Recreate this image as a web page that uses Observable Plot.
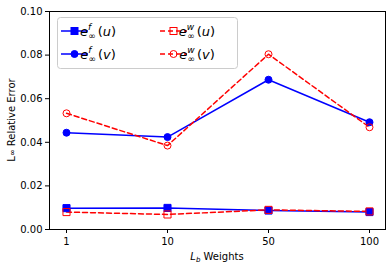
<!DOCTYPE html>
<html><head><meta charset="utf-8">
<script src="https://cdn.jsdelivr.net/npm/d3@7"></script>
<script src="https://cdn.jsdelivr.net/npm/@observablehq/plot@0.6"></script>
<style>body{margin:0;background:#fff;} svg{font-family:"DejaVu Sans",sans-serif;}</style>
</head><body><div id="chart"></div>
<script>
const weights = ["1", "10", "50", "100"];
const efU = [0.0098, 0.0099, 0.0087, 0.0080];
const efV = [0.0444, 0.0424, 0.0687, 0.0492];
const ewU = [0.0080, 0.0069, 0.0090, 0.0083];
const ewV = [0.0533, 0.0385, 0.0804, 0.0469];
const yTicks = [0, 0.02, 0.04, 0.06, 0.08, 0.10];

const BLUE = "#0000ff", RED = "#ff0000";
function rows(vals) { return weights.map((w, i) => ({w, v: vals[i]})); }

const plot = Plot.plot({
  width: 392, height: 270,
  marginLeft: 49, marginRight: 7, marginTop: 11, marginBottom: 41,
  style: {fontFamily: "DejaVu Sans, sans-serif", fontSize: "10px", background: "white", color: "black"},
  x: {type: "point", domain: weights, padding: 0.158},
  y: {domain: [0, 0.1]},
  marks: [
    Plot.axisY({ticks: yTicks, tickFormat: d => d.toFixed(2), tickSize: 4, tickPadding: 3, label: null, fontSize: 10}),
    Plot.axisX({tickSize: 4, tickPadding: 4, label: null, fontSize: 10}),
    Plot.line(rows(efU), {x: "w", y: "v", stroke: BLUE, strokeWidth: 1.5}),
    Plot.line(rows(efV), {x: "w", y: "v", stroke: BLUE, strokeWidth: 1.5}),
    Plot.line(rows(ewU), {x: "w", y: "v", stroke: RED, strokeWidth: 1.5, strokeDasharray: "5,3"}),
    Plot.line(rows(ewV), {x: "w", y: "v", stroke: RED, strokeWidth: 1.5, strokeDasharray: "5,3"}),
    Plot.dot(rows(efU), {x: "w", y: "v", symbol: "square", r: 4, fill: BLUE, stroke: BLUE, strokeWidth: 1}),
    Plot.dot(rows(efV), {x: "w", y: "v", symbol: "circle", r: 3.5, fill: BLUE, stroke: BLUE, strokeWidth: 1}),
    Plot.dot(rows(ewU), {x: "w", y: "v", symbol: "square", r: 4, fill: "none", stroke: RED, strokeWidth: 1}),
    Plot.dot(rows(ewV), {x: "w", y: "v", symbol: "circle", r: 3.5, fill: "none", stroke: RED, strokeWidth: 1}),
    Plot.frame({stroke: "black", strokeWidth: 1})
  ]
});
document.getElementById("chart").appendChild(plot);

const svg = d3.select(plot);
// axis titles
const yl = svg.append("text").attr("transform", "translate(15,120) rotate(-90)")
  .attr("text-anchor", "middle").attr("font-size", 10).attr("fill", "black");
yl.append("tspan").text("L");
yl.append("tspan").attr("font-size", 8).text("∞");
yl.append("tspan").text(" Relative Error");

const xl = svg.append("text").attr("x", 217).attr("y", 260)
  .attr("text-anchor", "middle").attr("font-size", 10).attr("fill", "black");
xl.append("tspan").attr("font-style", "italic").text("L");
xl.append("tspan").attr("font-style", "italic").attr("font-size", 7).attr("dy", 2).text("b");
xl.append("tspan").attr("dy", -2).text(" Weights");

// legend
const lg = svg.append("g");
lg.append("rect").attr("x", 57.5).attr("y", 17.5).attr("width", 180).attr("height", 51)
  .attr("rx", 3).attr("fill", "white").attr("fill-opacity", 0.8).attr("stroke", "#cccccc");
const entries = [
  {x: 61, y: 31, color: BLUE, dash: null, sym: "square", fill: BLUE, sup: "f", v: "u"},
  {x: 61, y: 54, color: BLUE, dash: null, sym: "circle", fill: BLUE, sup: "f", v: "v"},
  {x: 160, y: 31, color: RED, dash: "5,3", sym: "square", fill: "none", sup: "w", v: "u"},
  {x: 160, y: 54, color: RED, dash: "5,3", sym: "circle", fill: "none", sup: "w", v: "v"}
];
for (const e of entries) {
  lg.append("line").attr("x1", e.x).attr("x2", e.x + 27).attr("y1", e.y).attr("y2", e.y)
    .attr("stroke", e.color).attr("stroke-width", 1.5).attr("stroke-dasharray", e.dash);
  const cx = e.x + 13.5;
  if (e.sym === "square") {
    lg.append("rect").attr("x", cx - 3.5).attr("y", e.y - 3.5).attr("width", 7).attr("height", 7)
      .attr("fill", e.fill).attr("stroke", e.color);
  } else {
    lg.append("circle").attr("cx", cx).attr("cy", e.y).attr("r", 3.5)
      .attr("fill", e.fill).attr("stroke", e.color);
  }
  const t = lg.append("text").attr("x", e.x + 37).attr("y", e.y + 4.5).attr("font-size", 13).attr("fill", "black");
  t.append("tspan").attr("font-style", "italic").text("e");
  t.append("tspan").attr("font-style", "italic").attr("font-size", 9).attr("dy", -6).text(e.sup);
  t.append("tspan").attr("font-size", 9).attr("dx", e.sup === "w" ? -7 : -3).attr("dy", 9).text("∞");
  t.append("tspan").attr("dy", -3).attr("dx", 2).text("(");
  t.append("tspan").attr("font-style", "italic").text(e.v);
  t.append("tspan").text(")");
}
</script></body></html>
